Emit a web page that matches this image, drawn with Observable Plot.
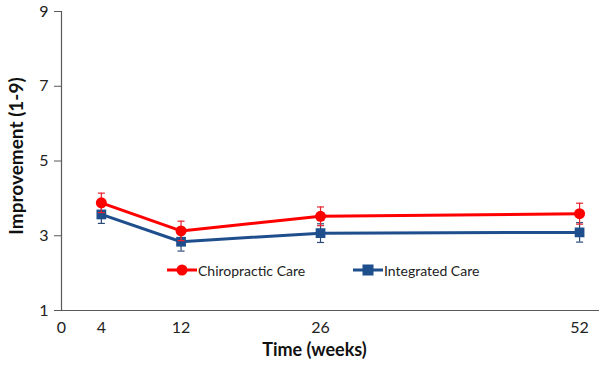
<!DOCTYPE html>
<html>
<head>
<meta charset="utf-8">
<script src="https://cdn.jsdelivr.net/npm/d3@7"></script>
<script src="https://cdn.jsdelivr.net/npm/@observablehq/plot@0.6"></script>
<style>
  body { margin: 0; background: #fff; }
  #wrap { position: relative; width: 600px; height: 368px; font-family: Lato, "Open Sans", sans-serif; }
  .legend { position: absolute; top: 261px; font-size: 14px; color: #222; display: flex; align-items: center; white-space: nowrap; }
  .legend svg { display: block; }
</style>
</head>
<body>
<div id="wrap"></div>
<script>
const weeks = [4, 12, 26, 52];
const xTicks = [0, 4, 12, 26, 52];
const yTicks = [1, 3, 5, 7, 9];
const chiroMean = [3.88, 3.13, 3.52, 3.59];
const chiroErr = [0.26, 0.26, 0.25, 0.28];
const integMean = [3.57, 2.84, 3.07, 3.09];
const integErr = [0.24, 0.25, 0.25, 0.26];
const seriesNames = ["Chiropractic Care", "Integrated Care"];
const xTitle = "Time (weeks)";
const yTitle = "Improvement (1-9)";

const red = "#ff0000", redErr = "#e8222e", blue = "#1f4e8c", blueErr = "#2a4a78";

const chiro = weeks.map((w, i) => ({week: w, y: chiroMean[i], lo: chiroMean[i] - chiroErr[i], hi: chiroMean[i] + chiroErr[i]}));
const integ = weeks.map((w, i) => ({week: w, y: integMean[i], lo: integMean[i] - integErr[i], hi: integMean[i] + integErr[i]}));

const cap = {draw(ctx, size) { const r = 3.5; ctx.moveTo(-r, 0); ctx.lineTo(r, 0); }};
const errMarks = (data, color) => [
  Plot.ruleX(data, {x: "week", y1: "lo", y2: "hi", stroke: color, strokeWidth: 1.2}),
  Plot.dot(data, {x: "week", y: "lo", symbol: cap, stroke: color, strokeWidth: 1.2, r: 3}),
  Plot.dot(data, {x: "week", y: "hi", symbol: cap, stroke: color, strokeWidth: 1.2, r: 3})
];

const plot = Plot.plot({
  width: 600, height: 368,
  marginLeft: 61, marginRight: 1, marginTop: 11, marginBottom: 58,
  style: {fontFamily: "Lato, 'Open Sans', sans-serif", background: "#fff"},
  x: {domain: [0, 54]},
  y: {domain: [1, 9]},
  marks: [
    Plot.axisY({ticks: yTicks, label: null, tickSize: 7, fontSize: 16, stroke: "#595959", color: "#222", tickPadding: 6}),
    Plot.axisX({ticks: xTicks, label: null, tickSize: 0, fontSize: 16, color: "#222", tickPadding: 11}),
    Plot.ruleX([0], {stroke: "#595959", strokeWidth: 1.2}),
    Plot.ruleY([1], {stroke: "#595959", strokeWidth: 1.2}),
    ...errMarks(integ, blueErr),
    Plot.line(integ, {x: "week", y: "y", stroke: blue, strokeWidth: 3}),
    Plot.dot(integ, {x: "week", y: "y", symbol: "square", fill: blue, r: 5.5}),
    ...errMarks(chiro, redErr),
    Plot.line(chiro, {x: "week", y: "y", stroke: red, strokeWidth: 3}),
    Plot.dot(chiro, {x: "week", y: "y", symbol: "circle", fill: red, r: 5.5}),
    Plot.text([yTitle], {frameAnchor: "left", textAnchor: "middle", dx: -45, dy: -5, rotate: -90, fontSize: 19, fontWeight: "bold", fill: "#111"}),
    Plot.text([xTitle], {frameAnchor: "bottom", dy: 45, dx: -16, fontSize: 18, fontWeight: "bold", fill: "#111"})
  ]
});

const wrap = document.getElementById("wrap");
wrap.appendChild(plot);

const legendItems = [
  {name: seriesNames[0], color: red, shape: "circle", left: 167},
  {name: seriesNames[1], color: blue, shape: "square", left: 353}
];
for (const it of legendItems) {
  const div = document.createElement("div");
  div.className = "legend";
  div.style.left = it.left + "px";
  const m = it.shape === "circle"
    ? `<circle cx="15" cy="9" r="5.5" fill="${it.color}"/>`
    : `<rect x="9.5" y="3.5" width="11" height="11" fill="${it.color}"/>`;
  div.innerHTML = `<svg width="30" height="18"><line x1="0" x2="30" y1="9" y2="9" stroke="${it.color}" stroke-width="3"/>${m}</svg><span style="margin-left:1px">${it.name}</span>`;
  wrap.appendChild(div);
}
</script>
</body>
</html>
